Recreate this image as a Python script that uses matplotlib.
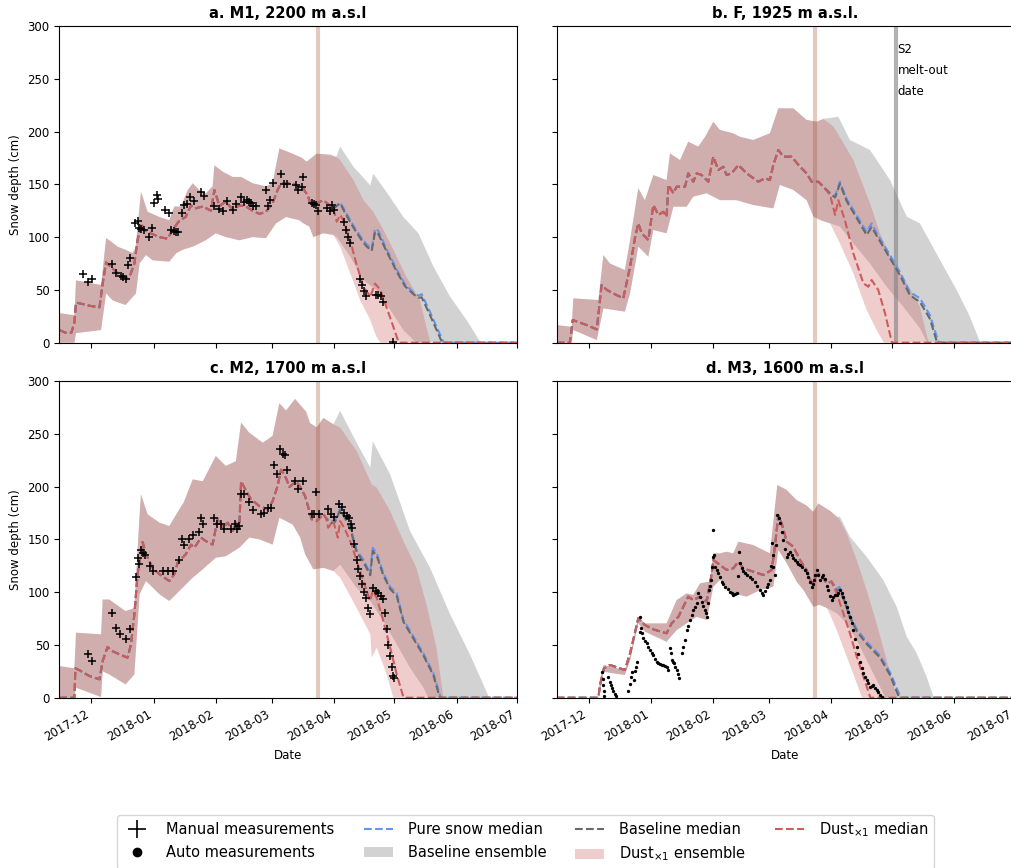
import numpy as np
import matplotlib
matplotlib.use('Agg')
import matplotlib.pyplot as plt
import matplotlib.dates as mdates
from matplotlib.lines import Line2D
from matplotlib.patches import Patch

# all series are (days since START, snow depth in cm)
START = '2017-11-15'
END = '2018-07-01'
DUST_EVENT = '2018-03-23 18:00'
S2_MELTOUT = '2018-05-03'

### a. M1, 2200 m
a_med = [(0,12),(3,9.5),(6,9.5),(7.5,19),(8.3,38),(11.6,36.6),(15,35),(20,33.5),(21.6,56),(23.3,76),(26.6,70),
         (29,66),(33,61),(35,62.5),(37.4,75),(39,97),(40.7,113),(42.4,107),(45.7,103.5),(49.9,100),(54,98.5),
         (56.5,107),(60,116),(63,119),(65.6,130),(67.3,127),(71.5,129),(75.6,125),(77.3,144.6),(79.8,129.5),
         (83,133.6),(86.4,126),(89.7,130),(93,129),(96.4,125),(99.7,122),(103,124),(106.3,132),(108.8,144.6),
         (110.5,151),(116,151),(118.3,149),(121.3,148),(122.5,143),(123.8,140),(125,132.6),(128.3,132),
         (131.6,135),(133.5,132),(136.6,127)]
a_pure = [(140,133),(142.4,125),(146.6,111),(150,101),(153,93.5),(155.7,89),(157.4,108),(159,106),(163,89),
          (168,70),(172.3,55.5),(176.5,47.5),(179,44.5),(180.6,46),(184.8,29),(189,11),(191.6,0),(228,0)]
a_base = [(140,132),(142.4,123),(146.6,109),(150,99),(153,91.5),(155.7,87),(157.4,105),(159,103),(163,87),
          (168,68),(172.3,53.5),(176.5,46),(179,42.5),(180.6,43),(184.8,26),(189,8),(190.8,0),(228,0)]
a_dust = [(138.3,114.6),(140,121),(141.6,116),(145,97),(148,75),(151.6,53),(155,43.6),(157.4,56),(160,50),
          (163,34),(166.5,15),(169,1),(170,0),(228,0)]
a_hi = [(0,28),(7.5,26),(8.3,59),(20.8,54.6),(23.3,99),(25,97),(29,91),(33,88),(36.5,85),(38,90),(40.7,143),
        (44,124),(49.9,119),(54.8,116),(57.3,129),(60.6,129),(64,144.6),(66.5,151),(69.8,144.6),(73,141.5),
        (76.4,148),(77.3,168),(81.4,162),(86.4,157),(90.6,157),(96.4,151),(103,148),(106.3,151),(109.7,184),
        (116.3,179),(121,175),(123.3,171.5),(128.3,179),(135,178),(138,176)]
a_base_hi = [(140,185.7),(146.6,166.7),(155,149),(156.5,160),(163,143),(171.5,119),(179,103.6),(186.5,72),
             (194.8,43.6),(203,21.5),(209.7,1),(210,0),(228,0)]
a_dust_hi = [(140,173),(146.6,154),(151.6,135),(156.5,124),(161.5,107),(166.5,88),(173,62.5),(179.8,40),
             (183,15),(184.8,1),(185,0),(228,0)]
a_lo = [(0,0),(7.5,0),(8.3,9),(20.8,12),(23.3,46.7),(26.6,40),(33,35.7),(38.2,46.7),(40,75),(43.2,83),
        (46.5,78),(54.8,76.7),(58.2,84.6),(61.5,88),(66.5,91),(73,97),(78,103.6),(83,100),(89.7,97),(96.4,100),
        (103,99),(108,113),(113,119),(119.6,116),(121.6,113),(124.6,110),(126.6,100),(131.6,103.6),(136.6,102)]
a_base_lo = [(138.3,100),(145,81.5),(151.6,59),(158,50),(165,31),(171.5,12),(176.5,2.5),(178,0),(228,0)]
a_dust_lo = [(140,91),(145,65.7),(150,40),(155,21.5),(158,5.7),(160,0),(228,0)]
a_manual = [(12.0,65),(14.1,57.8),(16.1,60),(26.3,74.5),(28.2,66.3),(30.7,63),(31.9,62.5),(33.2,60),(34.2,73.6),
            (35.2,80),(37.9,113.7),(39.0,115.6),(39.9,109),(40.7,108),(42.4,106.7),(44.9,100),(46.2,109),
            (47.0,132.6),(48.5,140),(49.2,136.4),(52.8,125.7),(54.5,122.5),(55.7,106.7),(57.0,106),(58.2,105),
            (59.2,105),(61.2,123),(62.3,130),(63.6,131),(65.1,137.7),(67.3,134),(70.6,142.4),(72.3,139),
            (77.3,129.5),(79.4,127),(81.4,125),(83.4,134),(86.4,126),(88.1,131),(90.6,137.7),(92.2,133.6),
            (93.4,135),(94.7,133.6),(95.5,132),(96.7,129.5),(98.0,129),(103.0,145),(103.9,129),(105.0,135),
            (106.7,151),(110.5,159.8),(112.2,150),(113.5,150),(118.0,149),(118.8,144.6),(121.0,147),(121.6,157),
            (125.8,132),(127.0,131.4),(128.0,130.4),(129.1,124.7),(133.6,127.3),(135,125),(136.1,130.4),
            (137.1,125.7),(142.1,114.6),(142.9,106.7),(144.1,100.4),(144.9,94.7),(149.9,60),(150.7,54.6),
            (151.9,49.3),(152.9,44.2),(157.9,45.2),(159.0,45.2),(160.2,44.2),(161.5,38.8),(166.2,0.6)]

### b. F, 1925 m
b_med = [(0,0),(6.6,0),(8,21.5),(11.6,19),(15,16.7),(20,12.6),(22.4,54.6),(25,50),(28.2,46.7),(33.2,42),
         (36.6,72),(39,98.8),(40.7,113),(42.4,103.6),(45.7,97.3),(48.2,130.4),(50.7,121),(53.2,124),(54.8,119.4),
         (55.7,149.4),(58.2,141.5),(59.8,147.8),(64,147.8),(65.6,160.4),(68.1,152.5),(69.8,160.4),(72.3,158.8),
         (75.6,152.5),(78.1,176.2),(80.6,163.6),(83.1,166.7),(84.7,158.8),(87.2,160.4),(90.6,168.3),(94.7,160.4),
         (100.5,152.5),(103.9,155.7),(106.3,154),(108,168.3),(110.5,182.5),(113,176.2),(117.1,176.2),
         (121.3,166.7),(124.6,160.4),(127.1,152.5),(130.4,152.5),(132.9,147.8)]
b_pure = [(136.3,142),(138.8,139),(141.2,152.5),(144.6,136),(149.6,120.5),(154.5,105),(157,113),(161.2,98.5),
          (166.2,83),(171.1,67),(176.1,48),(181.1,42),(186.1,26),(190.3,1),(191,0),(228,0)]
b_base = [(136.3,141),(138.8,137.5),(141.2,150.5),(144.6,134),(149.6,118),(154.5,102),(157,109.5),(161.2,96),
          (166.2,80),(171.1,64),(176.1,45),(181.1,38.5),(186.1,22.5),(189.5,1),(190,0),(228,0)]
b_dust = [(136.3,140),(138.8,121),(140.4,135),(143.7,116),(147.9,84.6),(152.9,56.2),(155.4,53),(157,59.4),
          (160.3,50),(163.7,27.8),(167,1),(167.5,0),(228,0)]
b_hi = [(0,16.7),(7.5,15),(8.3,42),(20.8,40.4),(23.3,83),(26.6,75),(34,68.8),(36.6,97.3),(40.7,146.2),(44,135),
        (48.2,158.8),(54.8,154),(56.5,179.3),(61.5,173),(65.6,190.4),(70.6,185.7),(74,195),(78.1,209.3),
        (81.4,201.5),(88,198.3),(91.4,195),(98,192),(106.3,198.3),(110.5,222),(118,222),(124.6,211),
        (129.6,209.3),(133,212)]
b_base_hi = [(140.4,214),(146.2,192),(156.2,182.5),(166.2,154),(174.5,119.4),(181.1,113),(191.1,78.3),
             (199.4,50),(206,24.6),(211,1),(211.5,0),(228,0)]
b_dust_hi = [(138,204.6),(143,188.8),(147.9,173),(156.2,132),(161.2,103.6),(167.8,75),(174.5,56.2),(181.1,34),
             (185.3,1),(186,0),(228,0)]
b_lo = [(0,0),(7.5,0),(8.3,12),(20,2.5),(23.3,32.5),(34,29.4),(36.6,46.7),(40.7,91),(45.7,81.5),(48.2,106.7),
        (54.8,103.6),(58.2,128.8),(64.8,128.8),(68.1,138.3),(74.8,141.5),(81.4,135),(89.7,135),(98,130.4),
        (108,127.2),(111.3,149.4),(118,144.6),(124.6,135),(128,119.4),(131.3,116.2),(136.3,113)]
b_base_lo = [(141.2,110),(147.9,94),(156.2,75),(164.5,53),(172.8,34),(181.1,13.6),(184.4,1),(185,0),(228,0)]
b_dust_lo = [(141.2,94),(147.9,65.7),(154.5,31),(159.5,12),(162.8,1),(163.5,0),(228,0)]

### c. M2, 1700 m
c_med = [(0,0),(7.5,0),(8,27.8),(10,26),(15,20.5),(20,17.4),(21.6,34.7),(24,48),(26.6,44),(30,41),(34,37.9),
         (35.7,50.5),(37.4,79),(39,117),(41.5,147.5),(43.2,135.8),(46.5,123),(49.9,117),(54.8,110.5),(57.3,117),
         (59,128),(63,135.8),(65.6,145),(67.3,142),(70.6,151.6),(73,148.4),(76.4,145),(79,170.5),(81.4,161),
         (84,165.8),(86.4,157.9),(88,165.8),(89.7,161),(90.6,205),(92.2,199),(95.5,188),(99.7,181.5),
         (103.9,178.4),(106.3,186),(108.8,200.5),(110.5,216),(113,208),(114.7,199.6),(118,205),(120,200),
         (122.5,191),(125.8,169),(128.3,167.3),(131.6,174),(133,170)]
c_pure = [(135,166.5),(137.4,168),(140,179),(142.4,171),(145,162),(148.2,140),(151.6,130.5),(155,118),
          (156.2,142),(158.2,137),(161.5,118),(164.9,105),(168.2,99),(171.5,74),(176.5,58),(181.5,42),
          (186.5,23),(189.8,2),(190.3,0),(228,0)]
c_base = [(135,165),(137.4,166.5),(140,177.5),(142.4,170),(145,160),(148.2,138),(151.6,128.5),(155,116),
          (156.2,139),(158.2,134.5),(161.5,116),(164.9,103),(168.2,96.5),(171.5,72),(176.5,56),(181.5,40),
          (186.5,21),(189.5,1),(190,0),(228,0)]
c_dust = [(134,161),(136.6,167),(138.8,151.6),(140,167.3),(142.4,159.5),(145.7,145),(148.2,129.5),(151.6,110.5),
          (154.9,91.6),(156.2,101),(158.2,94.7),(161.5,72.6),(164.9,47.4),(168.2,22),(171.5,0.6),(172,0),(228,0)]
c_hi = [(0,30),(7.5,27.8),(8.3,61.6),(20.8,60),(21.6,93),(24.9,93),(33,82),(37.4,85),(40,173.7),(40.7,192.6),
        (44,173.7),(49.9,165.8),(54.8,162.6),(59.8,178.4),(62,185),(66.5,206.8),(71.5,205),(78,229),(83,219.5),
        (88,224),(90.6,260.5),(94.7,251),(101.4,241.5),(106.3,248),(109.7,279),(113,272),(117.5,283),(123,271),
        (125,260),(128.3,256),(131.6,265),(136.6,259)]
c_base_hi = [(140,271.6),(148.2,241.5),(155,218),(156.2,243),(164.9,211.6),(174.8,158),(184.8,123),(194.8,79),
             (204.7,41),(213.9,1.6),(214.5,0),(228,0)]
c_dust_hi = [(140,255.8),(148.2,233.7),(155,205),(155.7,202),(158.2,199),(164.9,176.8),(171.5,148.4),(178,123),
             (183,88.4),(188,47.4),(191.4,0.6),(192,0),(228,0)]
c_lo = [(0,0),(7.5,0),(8.3,9.5),(20.8,0.6),(21.6,25),(24.9,22),(33,12.6),(37.4,22),(40,98),(43.2,110.5),
        (49.9,98),(54.8,91.6),(59.8,101),(66.5,113.7),(71.5,121.6),(78,132.6),(83,134),(89.7,142),(94.7,151.6),
        (99.7,150),(106.3,145),(109.7,170.5),(116.3,164),(120,152),(122.5,136),(126.6,121.6),(131.6,123),
        (136.6,120)]
c_base_lo = [(140,126),(148.2,104),(155,91.6),(161.5,72.6),(168.2,50.5),(174.8,28.4),(181.5,9.5),(184,0),(228,0)]
c_dust_lo = [(140,113.7),(148.2,85),(155,60),(155.7,37.9),(158.2,47.4),(163.2,22),(166.5,0),(228,0)]
c_manual = [(14.1,41.7),(16.1,34.7),(26.3,80),(28.2,66.3),(30.2,60),(33.2,55.3),(35.2,64.7),(38.2,114.3),
            (39.0,132),(39.9,127),(40.7,139.6),(41.5,137.4),(42.5,135),(45.2,124.7),(46.5,120),(51.8,120),
            (54.0,120),(56.5,120),(59.5,130),(61.0,150),(62.3,144.6),(64.5,150),(66.5,153.8),(69.5,157.2),
            (70.5,170),(71.5,164.8),(77.3,170),(78.4,164.8),(80.6,164.8),(82.3,159.5),(85.6,159.5),(87.7,164.2),
            (88.4,159.5),(89.7,162.6),(90.6,192.6),(92.2,192.6),(94.4,185.7),(96.4,177.5),(100.5,174.3),
            (102.2,175.2),(103.9,180),(105.5,180),(107.2,220.4),(108.3,212.2),(110.0,235.2),(111.3,231),
            (112.7,230),(113.3,215.4),(117.5,205),(119.2,197.3),(121.3,205),(125.8,174.3),(127.0,174.3),
            (128.0,194.8),(129.6,174.3),(134.1,178.4),(135.3,174.3),(136.9,171.1),(139.6,183.1),(140.8,180.6),
            (141.9,175.2),(143.2,172),(144.6,170),(145.4,164.8),(146.1,160.4),(147.1,145.2),(148.2,130),
            (149.1,121.6),(149.9,115.3),(150.7,107.4),(151.9,100.4),(152.9,94.7),(154.0,85.3),(154.9,79.6),
            (156.5,103.6),(157.9,101),(159.0,99.5),(160.2,96.3),(161.2,93.1),(162.4,80.5),(163.2,64.7),
            (164.0,49.9),(165.0,39.5),(165.7,29),(166.2,20.5),(166.8,18.3)]

### d. M3, 1600 m
d_med = [(0,0),(20.8,0),(21.6,12),(23.6,27.8),(26.6,31),(34,26.2),(36.6,42),(40.7,75.2),(44,68.8),(48.2,64.7),
         (54.8,61),(57.3,70.4),(60.7,76.7),(65.6,95.7),(68.1,92.5),(71.5,95.7),(74.8,91),(77.3,117.8),(78.1,130.4),
         (81.4,125.7),(84.7,121),(88,122.5),(90.6,128.8),(93,122.5),(98,119.4),(103,116.2),(107.2,121),(108.8,143),
         (110.5,173),(112.2,165),(114.7,147.8),(118,143),(121.3,130.4),(124.6,121),(127.1,108.3),(129.6,116.2),
         (131.3,117.8),(134.6,108.3),(137,110)]
d_pure = [(139.6,103),(141,105),(143.7,92),(146.2,78),(149.6,65),(154.5,53),(161.2,40),(166.2,24),(171.1,2),
          (171.5,0),(228,0)]
d_base = [(139.6,101),(141,102.5),(143.7,90),(146.2,76),(149.6,63),(154.5,51),(161.2,38),(166.2,21.5),(170.5,1),
          (171,0),(228,0)]
d_dust = [(139.6,98.8),(142.9,80),(146.2,61),(149.6,38.8),(152.9,20),(156.2,1),(156.5,0),(228,0)]
d_hi = [(0,0),(20.8,0),(21.6,16.7),(23.3,31),(34,26.2),(36.6,40),(40.7,76.7),(44,70.4),(54.8,70.4),(59.8,92.5),
        (64.8,98.8),(68.1,97.3),(71.5,108.3),(76.4,110),(78.1,136.7),(81.4,136.7),(84.7,138.3),(88,136.7),
        (90.6,147.8),(98,144.6),(106.3,136.7),(110,201.5),(114.7,196.7),(119.6,187.2),(124.6,182),(128,176),
        (130.4,184),(136.3,177),(140,171)]
d_base_hi = [(141.2,171.5),(146.2,152.5),(154.5,133.6),(162.8,111.5),(169.5,86.2),(174.5,57.8),(179.5,42),
             (184.4,20),(187.8,1),(188.3,0),(228,0)]
d_dust_hi = [(141.2,168),(144.6,155.7),(149.6,130.4),(154.5,102),(159.5,70.4),(164.5,35.7),(169.5,1),(170,0),
             (228,0)]
d_lo = [(0,0),(20.8,0),(21.6,5),(23.3,24.6),(34,21.5),(36.6,35),(40.7,70.4),(44,62.5),(54.8,53),(59.8,64),
        (64.8,70.4),(69.8,76.7),(74.8,73.6),(78.1,105),(81.4,111.5),(88,98.8),(94.7,95.7),(101.4,102),(108,105),
        (110.5,140),(114.7,127.3),(119.6,110),(123,102),(128,86),(131,88),(134.6,85)]
d_base_lo = [(139.6,80),(144.6,70.4),(149.6,54.6),(154.5,35.7),(159.5,16.7),(163.7,1),(164,0),(228,0)]
d_dust_lo = [(136,80),(139.6,64),(144.6,38.8),(149.6,13.6),(152,1),(152.5,0),(228,0)]
d_auto = [(22.8,24),(23.0,18),(23.2,12),(23.4,6),(23.6,2),(25.7,20),(26.4,15),(27.0,12),(27.6,9),(28.3,6),
          (29.0,3.5),(29.8,1.5),(35.8,6),(36.6,13),(37.2,20),(37.8,24),(38.4,17),(39.0,25),(39.6,29),(40.2,34),
          (41.4,62),(41.6,76.7),(42.0,66),(42.4,61),(43.2,57),(44.0,54),(44.8,51.5),(45.6,48),(46.4,45),
          (47.3,42.5),(48.2,40.4),(49.0,37),(49.8,34),(50.6,33),(51.5,32),(52.3,31),(53.1,30.5),(54.0,30),
          (54.8,29.4),(55.6,26.2),(56.5,47),(56.8,42),(57.3,35.7),(58.0,34),(58.6,32.5),(59.2,29),(59.8,26.2),
          (60.4,22),(61.1,18.3),(62.3,42),(63.2,48),(64.0,54.6),(64.8,64),(65.6,68),(66.5,73.6),(67.3,78),
          (68.1,83),(69.0,86),(69.8,89.4),(70.6,98.8),(71.4,95),(72.3,91),(73.1,87),(73.9,83),(74.5,80),
          (75.1,76.7),(75.6,90),(76.1,102),(76.5,106),(76.9,111.5),(77.4,124),(77.8,133.6),(78.1,158.8),
          (78.5,135),(78.9,124),(79.7,121),(80.6,117.8),(81.4,114),(82.2,110),(83.1,107.5),(83.9,105),
          (85.2,102.5),(86.4,100.4),(87.2,99),(88.1,97.3),(88.9,98),(89.7,98.8),(90.4,115),(91.0,138.3),
          (91.6,128),(92.2,122.5),(93.1,120),(93.9,117.8),(95.1,116),(96.4,114.6),(97.6,112),(98.9,110),
          (100.1,106),(101.3,102),(102.2,99.5),(103.0,97.3),(103.9,101),(104.7,105),(105.5,108),(106.3,111.5),
          (106.8,125),(107.2,146.2),(107.6,135),(108.0,124),(108.8,116.2),(109.4,145),(110.0,173),(110.6,170),
          (111.3,165),(112.1,157),(113.0,149.4),(113.8,141),(114.6,133.6),(115.4,136),(116.3,138.3),(117.1,135),
          (118.0,132),(118.8,130.4),(119.6,128.8),(120.4,127),(121.3,125.7),(122.5,123.4),(123.8,121),
          (124.6,118),(125.4,114.6),(126.2,110),(127.1,105),(127.7,108),(128.3,111.5),(129.0,116),(129.6,121),
          (130.4,116),(131.3,111.5),(132.1,114),(132.9,116.2),(133.8,112),(134.6,106),(135.4,102),(136.2,96),
          (137.1,92.5),(137.9,95),(138.7,97.3),(139.6,97.3),(140.4,99),(141.2,102),(142.0,99),(142.9,95.7),
          (143.7,91),(144.6,86.2),(145.4,81.5),(146.2,76.7),(147.0,70.5),(147.9,64),(148.7,56),(149.6,48.3),
          (150.4,41),(151.2,34),(152.0,28.5),(152.9,23),(153.7,20),(154.5,16.7),(155.3,13.5),(156.2,10.4),
          (157.0,11),(157.9,12),(158.7,9.5),(159.5,7.3),(160.3,5),(161.2,2.5),(162,1)]

titles = ['a. M1, 2200 m a.s.l', 'b. F, 1925 m a.s.l.', 'c. M2, 1700 m a.s.l', 'd. M3, 1600 m a.s.l']

T0 = mdates.datestr2num(START)


def xy(pts):
    arr = np.array(pts, dtype=float)
    return T0 + arr[:, 0], arr[:, 1]


def band(ax, hi, lo, **kw):
    x1, y1 = xy(hi)
    x2, y2 = xy(lo)
    ax.fill(np.r_[x1, x2[::-1]], np.r_[y1, y2[::-1]], lw=0, **kw)


panels = [
    (titles[0], a_med, a_pure, a_base, a_dust, a_hi, a_base_hi, a_dust_hi, a_lo, a_base_lo, a_dust_lo, a_manual, None),
    (titles[1], b_med, b_pure, b_base, b_dust, b_hi, b_base_hi, b_dust_hi, b_lo, b_base_lo, b_dust_lo, None, None),
    (titles[2], c_med, c_pure, c_base, c_dust, c_hi, c_base_hi, c_dust_hi, c_lo, c_base_lo, c_dust_lo, c_manual, None),
    (titles[3], d_med, d_pure, d_base, d_dust, d_hi, d_base_hi, d_dust_hi, d_lo, d_base_lo, d_dust_lo, None, d_auto),
]

plt.rcParams['font.size'] = 9
fig = plt.figure(figsize=(10.11, 8.68), dpi=100)

W, H = 0.4524, 0.3649
pos = [[0.0587, 0.6052, W, H], [0.5506, 0.6052, W, H],
       [0.0587, 0.1962, W, H], [0.5506, 0.1962, W, H]]

axes = []
for i, p in enumerate(panels):
    title, med, pure, base, dust, hi, base_hi, dust_hi, lo, base_lo, dust_lo, manual, auto = p
    ax = fig.add_axes(pos[i], sharex=axes[0] if axes else None, sharey=axes[0] if axes else None)
    axes.append(ax)

    band(ax, hi + base_hi, lo + base_lo, color='grey', alpha=0.35)
    band(ax, hi + dust_hi, lo + dust_lo, color='indianred', alpha=0.3)

    ax.axvline(mdates.datestr2num(DUST_EVENT), color='sienna', alpha=0.3, lw=3)
    if i == 1:
        xs2 = mdates.datestr2num(S2_MELTOUT)
        ax.axvline(xs2, color='grey', alpha=0.6, lw=3)
        ax.text(xs2 + 1, 284, 'S2\nmelt-out\ndate', va='top', ha='left', fontsize=8.5, linespacing=1.8)

    ax.plot(*xy(med + pure), '--', color='cornflowerblue', lw=1.5)
    ax.plot(*xy(med + base), '--', color='dimgrey', lw=1.5)
    ax.plot(*xy(med + dust), '--', color='indianred', lw=1.5)

    if manual is not None:
        ax.plot(*xy(manual), '+', color='k', ms=6, mew=1.1, zorder=5)
    if auto is not None:
        ax.plot(*xy(auto), 'o', color='k', ms=2.4, mew=0, zorder=5)

    ax.set_title(title, fontweight='bold', fontsize=10.5)
    ax.tick_params(labelsize=8.5)
    if i % 2 == 0:
        ax.set_ylabel('Snow depth (cm)', fontsize=8.5)
    else:
        ax.tick_params(labelleft=False)
    if i < 2:
        ax.tick_params(labelbottom=False)
    else:
        ax.set_xlabel('Date', fontsize=8.5)

axes[0].set_xlim(mdates.datestr2num(START), mdates.datestr2num(END))
axes[0].set_ylim(0, 300)
axes[0].set_yticks(np.arange(0, 301, 50))
axes[0].xaxis.set_major_locator(mdates.MonthLocator())
axes[0].xaxis.set_major_formatter(mdates.DateFormatter('%Y-%m'))
for ax in axes[2:]:
    plt.setp(ax.get_xticklabels(), rotation=30, ha='right')

handles = [
    Line2D([], [], ls='none', marker='+', color='k', ms=13, mew=1.2),
    Line2D([], [], ls='none', marker='o', color='k', ms=6),
    Line2D([], [], ls='--', color='cornflowerblue', lw=1.5),
    Patch(color='grey', alpha=0.35, lw=0),
    Line2D([], [], ls='--', color='dimgrey', lw=1.5),
    Patch(color='indianred', alpha=0.3, lw=0),
    Line2D([], [], ls='--', color='indianred', lw=1.5),
]
labels = ['Manual measurements', 'Auto measurements', 'Pure snow median', 'Baseline ensemble',
          'Baseline median', r'Dust$_{\times1}$ ensemble', r'Dust$_{\times1}$ median']
fig.legend(handles, labels, loc='center', bbox_to_anchor=(0.52, 0.030), ncol=4, fontsize=10.5,
           handletextpad=1.0, columnspacing=2.0, borderpad=0.35)

fig.savefig('out.png', dpi=100)
